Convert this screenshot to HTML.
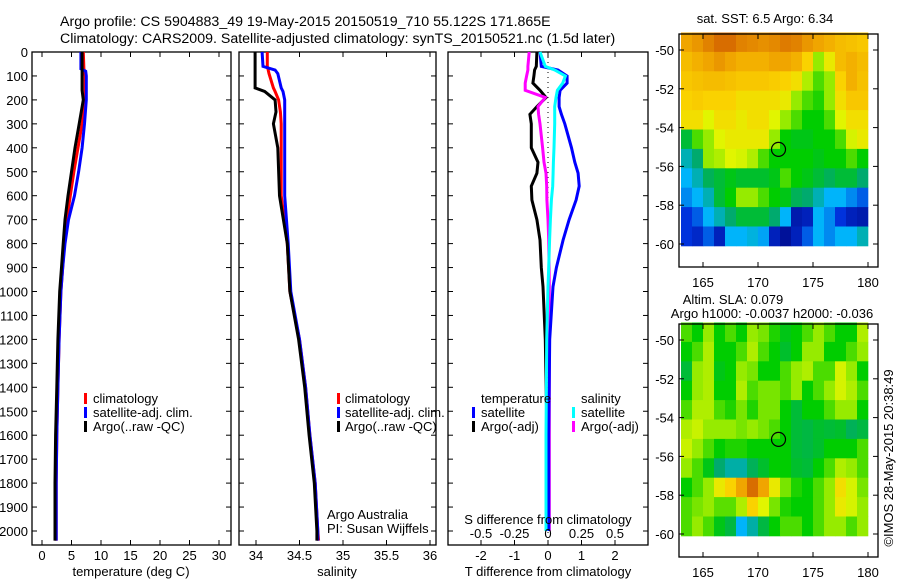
<!DOCTYPE html>
<html><head><meta charset="utf-8">
<style>
body{margin:0;background:#fff;}
svg{display:block;font-family:"Liberation Sans",sans-serif;}
text{font-size:13px;fill:#000;}
</style></head>
<body>
<svg id="c" width="900" height="580" xmlns="http://www.w3.org/2000/svg">
<text x="60" y="26" style="font-size:14.2px">Argo profile: CS 5904883_49 19-May-2015 20150519_710 55.122S 171.865E</text>
<text x="60" y="43" style="font-size:14.2px">Climatology: CARS2009. Satellite-adjusted climatology: synTS_20150521.nc (1.5d later)</text>
</svg>
<script>
// ---- profile data ----
const tDepth=[0,70,80,100,160,200,300,400,500,600,700,800,900,1000,1200,1400,1600,1800,2000,2040];
const tClim=[7.0,7.1,7.2,7.3,7.3,7.4,6.8,6.1,5.4,4.8,4.2,3.8,3.5,3.2,2.9,2.7,2.5,2.4,2.4,2.4];
const tSat=[6.6,6.6,7.4,7.5,7.5,7.5,7.2,6.8,6.2,5.5,4.5,3.9,3.5,3.2,2.9,2.7,2.5,2.4,2.4,2.4];
const tArgo=[6.8,6.8,6.8,6.8,6.8,7.0,6.3,5.6,5.0,4.4,3.9,3.6,3.3,3.0,2.7,2.5,2.3,2.2,2.2,2.2];
const sDepth=[0,60,75,90,150,165,200,250,300,400,600,800,1000,1200,1400,1600,1800,2000,2040];
const sClim=[34.13,34.13,34.14,34.15,34.2,34.22,34.26,34.28,34.29,34.29,34.29,34.36,34.39,34.5,34.57,34.62,34.68,34.71,34.72];
const sSat=[34.07,34.08,34.22,34.25,34.29,34.31,34.33,34.33,34.33,34.33,34.33,34.37,34.4,34.5,34.57,34.62,34.68,34.71,34.71];
const sArgo=[33.99,33.99,33.99,33.99,33.99,34.1,34.22,34.23,34.2,34.25,34.27,34.36,34.39,34.49,34.56,34.61,34.67,34.7,34.7];
const dDepth=[0,60,75,100,130,160,190,228,260,300,400,460,506,560,618,700,785,900,980,1200,1600,2000];
const dTsat=[-0.24,-0.2,0.3,0.57,0.57,0.36,0.33,0.33,0.4,0.5,0.7,0.8,0.9,0.93,0.84,0.63,0.45,0.25,0.15,0.05,0.02,0.02];
const dTargo=[-0.33,-0.35,-0.4,-0.42,-0.45,-0.24,-0.06,-0.33,-0.54,-0.5,-0.5,-0.3,-0.33,-0.5,-0.48,-0.33,-0.24,-0.2,-0.15,-0.08,-0.03,-0.02];
const dSsat=[-0.06,-0.02,0.05,0.13,0.11,0.07,0.06,0.05,0.05,0.05,0.045,0.04,0.038,0.035,0.025,0.018,0.012,0.005,0.0,-0.01,-0.015,-0.015];
const dSargo=[-0.14,-0.15,-0.15,-0.16,-0.17,-0.17,-0.02,-0.075,-0.07,-0.06,-0.04,-0.03,-0.015,-0.01,-0.008,0.0,0.005,0.008,0.01,0.01,0.01,0.01];
// ---- map data (normalized colour index 0..1), rows lat -49.6 .. -59.6, cols lon 163.5..179.5 ----
const sstGrid=[
[0.8,0.82,0.85,0.88,0.88,0.85,0.84,0.83,0.84,0.86,0.85,0.82,0.8,0.78,0.76,0.75,0.74],
[0.76,0.78,0.8,0.82,0.8,0.78,0.78,0.78,0.8,0.8,0.78,0.72,0.6,0.68,0.76,0.78,0.76],
[0.74,0.75,0.76,0.76,0.75,0.74,0.74,0.74,0.73,0.72,0.7,0.62,0.55,0.6,0.72,0.78,0.75],
[0.72,0.73,0.72,0.72,0.72,0.7,0.7,0.7,0.7,0.68,0.6,0.55,0.52,0.6,0.7,0.74,0.74],
[0.7,0.7,0.66,0.7,0.7,0.68,0.7,0.7,0.66,0.6,0.55,0.5,0.5,0.55,0.66,0.7,0.7],
[0.45,0.55,0.6,0.66,0.68,0.68,0.68,0.68,0.6,0.5,0.48,0.48,0.5,0.5,0.55,0.65,0.68],
[0.35,0.4,0.6,0.62,0.66,0.65,0.62,0.55,0.5,0.5,0.5,0.5,0.48,0.5,0.5,0.55,0.5],
[0.3,0.35,0.42,0.45,0.48,0.46,0.46,0.46,0.48,0.55,0.5,0.48,0.45,0.42,0.45,0.45,0.4],
[0.25,0.3,0.35,0.45,0.5,0.6,0.6,0.55,0.5,0.48,0.42,0.4,0.35,0.3,0.3,0.25,0.2],
[0.15,0.2,0.3,0.35,0.4,0.45,0.45,0.45,0.4,0.3,0.08,0.1,0.3,0.25,0.15,0.1,0.08],
[0.15,0.12,0.2,0.1,0.3,0.3,0.32,0.28,0.1,0.05,0.1,0.2,0.3,0.25,0.3,0.3,0.35]];
const slaGrid=[
[0.55,0.5,0.6,0.5,0.55,0.5,0.6,0.58,0.52,0.48,0.5,0.55,0.6,0.55,0.5,0.5,0.62],
[0.5,0.55,0.62,0.5,0.5,0.55,0.62,0.55,0.5,0.46,0.5,0.6,0.6,0.5,0.5,0.55,0.6],
[0.45,0.6,0.62,0.48,0.5,0.6,0.58,0.5,0.5,0.55,0.6,0.62,0.55,0.55,0.65,0.6,0.5],
[0.5,0.6,0.62,0.5,0.5,0.62,0.55,0.58,0.58,0.55,0.6,0.5,0.55,0.6,0.65,0.62,0.55],
[0.55,0.62,0.62,0.55,0.52,0.58,0.52,0.58,0.58,0.5,0.45,0.5,0.5,0.55,0.6,0.6,0.5],
[0.62,0.64,0.6,0.6,0.6,0.58,0.6,0.58,0.55,0.5,0.45,0.44,0.46,0.45,0.46,0.42,0.44],
[0.64,0.6,0.55,0.5,0.52,0.52,0.5,0.5,0.5,0.5,0.45,0.44,0.46,0.5,0.5,0.5,0.55],
[0.6,0.55,0.48,0.4,0.36,0.36,0.42,0.46,0.5,0.5,0.46,0.45,0.5,0.55,0.62,0.6,0.55],
[0.5,0.55,0.6,0.68,0.72,0.8,0.88,0.8,0.68,0.58,0.52,0.5,0.55,0.6,0.7,0.65,0.58],
[0.55,0.58,0.6,0.56,0.56,0.62,0.72,0.66,0.58,0.52,0.5,0.5,0.55,0.6,0.68,0.65,0.6],
[0.55,0.6,0.55,0.48,0.44,0.3,0.36,0.44,0.5,0.55,0.55,0.5,0.55,0.6,0.6,0.55,0.6]];
const depthTicks=[0,100,200,300,400,500,600,700,800,900,1000,1100,1200,1300,1400,1500,1600,1700,1800,1900,2000];
const tTicks=[0,5,10,15,20,25,30];
const sTicks=[34,34.5,35,35.5,36];
const sTickLabels=["34","34.5","35","35.5","36"];
const dTTicks=[-2,-1,0,1,2];
const dSTicks=[-0.5,-0.25,0,0.25,0.5];
const dSTickLabels=["-0.5","-0.25","0","0.25","0.5"];
const lonTicks=[165,170,175,180];
const latTicks=[-50,-52,-54,-56,-58,-60];
const argoLon=171.865, argoLat=-55.122;

const svg=document.getElementById('c');
const NS='http://www.w3.org/2000/svg';
function el(tag,attrs,parent){const e=document.createElementNS(NS,tag);for(const k in attrs)e.setAttribute(k,attrs[k]);(parent||svg).appendChild(e);return e;}
function txt(x,y,s,anchor,parent){const t=el('text',{x:x,y:y,'text-anchor':anchor||'start'},parent);t.textContent=s;return t;}

const yD=d=>52+d*0.2395;
const xT=v=>42+v*5.9;
const xS=v=>256+(v-34)*87;
const xDT=v=>548+v*33.5;
const xDS=v=>548+v*134;
const FB=545;

function frame(x0,x1,name){
  const r=el('rect',{x:x0,y:52,width:x1-x0,height:FB-52,fill:'none',stroke:'#000','stroke-width':1.3});
  
  
}
function line(xs,ds,fx,color,w,name){
  const pts=xs.map((v,i)=>fx(v).toFixed(1)+','+yD(ds[i]).toFixed(1)).join(' ');
  const p=el('polyline',{points:pts,fill:'none',stroke:color,'stroke-width':w,'stroke-linejoin':'miter'});
  
  
}
function xticks(vals,labels,fx,x0,x1,name){
  const g=el('g',{});
  
  
  vals.forEach((v,i)=>{const x=fx(v);
    el('line',{x1:x,x2:x,y1:FB,y2:FB-5,stroke:'#000'},g);
    el('line',{x1:x,x2:x,y1:52,y2:57,stroke:'#000'},g);
    txt(x,560,labels[i],'middle',g);});
}
function yticks(x0,x1,labels){
  const g=el('g',{});
  
  
  depthTicks.forEach(d=>{const y=yD(d);
    el('line',{x1:x0,x2:x0+5,y1:y,y2:y,stroke:'#000'},g);
    el('line',{x1:x1,x2:x1-5,y1:y,y2:y,stroke:'#000'},g);
    if(labels)txt(28,y+5,String(d),'end',g);});
}
function legendMark(x,y,c,name){const r=el('rect',{x:x,y:y-10,width:3,height:11,fill:c});
  }

// Panel 1 temperature
frame(32,231,'temperature-panel');
yticks(32,231,true);
xticks(tTicks,tTicks.map(String),xT,32,231,'temperature-x-ticks');
line(tClim,tDepth,xT,'#f00',3,'temperature-climatology-line');
line(tSat,tDepth,xT,'#00f',3,'temperature-satellite-line');
line(tArgo,tDepth,xT,'#000',3,'temperature-argo-line');
txt(131,576,'temperature (deg C)','middle');
legendMark(84,403,'#f00','legend-climatology-mark');txt(93,403,'climatology');
legendMark(84,417,'#00f','legend-satellite-mark');txt(93,417,'satellite-adj. clim.');
legendMark(84,431,'#000','legend-argo-mark');txt(93,431,'Argo(..raw -QC)');

// Panel 2 salinity
frame(239,436,'salinity-panel');
yticks(239,436,false);
xticks(sTicks,sTickLabels,xS,239,436,'salinity-x-ticks');
line(sClim,sDepth,xS,'#f00',3,'salinity-climatology-line');
line(sSat,sDepth,xS,'#00f',3,'salinity-satellite-line');
line(sArgo,sDepth,xS,'#000',3,'salinity-argo-line');
txt(337,576,'salinity','middle');
legendMark(337,403,'#f00','legend2-climatology-mark');txt(345,403,'climatology');
legendMark(337,417,'#00f','legend2-satellite-mark');txt(345,417,'satellite-adj. clim.');
legendMark(337,431,'#000','legend2-argo-mark');txt(345,431,'Argo(..raw -QC)');
txt(327,519,'Argo Australia');
txt(327,533,'PI: Susan Wijffels');

// Panel 3 differences
frame(448,648,'difference-panel');
yticks(448,648,false);
xticks(dTTicks,dTTicks.map(String),xDT,448,648,'t-difference-x-ticks');
el('line',{x1:548,x2:548,y1:52,y2:FB,stroke:'#000','stroke-dasharray':'1,4','stroke-width':1});
line(dTargo,dDepth,xDT,'#000',3,'t-diff-argo-line');
line(dSargo,dDepth,xDS,'#f0f',3,'s-diff-argo-line');
line(dTsat,dDepth,xDT,'#00f',3,'t-diff-satellite-line');
line(dSsat,dDepth,xDS,'#0ff',3,'s-diff-satellite-line');
txt(481,403,'temperature');txt(581,403,'salinity');
legendMark(472,417,'#00f','legend3-t-satellite');txt(481,417,'satellite');
legendMark(472,431,'#000','legend3-t-argo');txt(481,431,'Argo(-adj)');
legendMark(572,417,'#0ff','legend3-s-satellite');txt(581,417,'satellite');
legendMark(572,431,'#f0f','legend3-s-argo');txt(581,431,'Argo(-adj)');
txt(548,524,'S difference from climatology','middle');
dSTicks.forEach((v,i)=>txt(xDS(v),538,dSTickLabels[i],'middle'));
txt(548,576,'T difference from climatology','middle');

// Maps
const cmapStops=[[0,[0,0,120]],[0.15,[0,50,220]],[0.3,[0,180,250]],[0.4,[0,170,110]],[0.5,[0,205,0]],[0.6,[150,235,0]],[0.66,[225,245,0]],[0.72,[250,210,0]],[0.8,[240,165,0]],[0.9,[210,95,0]],[1,[150,0,0]]];
function cmap(v){v=Math.max(0,Math.min(1,v));
  for(let i=1;i<cmapStops.length;i++){const a=cmapStops[i-1],b=cmapStops[i];
    if(v<=b[0]){const t=(v-a[0])/(b[0]-a[0]);
      return 'rgb('+a[1].map((c,k)=>Math.round(c+(b[1][k]-c)*t)).join(',')+')';}}
  return 'rgb(150,0,0)';}
function map(grid,top,name){
  const lonX=l=>703+(l-165)*11;
  const latY=l=>top+16+(-50-l)*19.4;
  const g=el('g',{});
  
  
  grid.forEach((row,r)=>row.forEach((v,c)=>{
    const lat=-49.1-r, lon=163+c;
    el('rect',{x:lonX(lon).toFixed(1),y:latY(lat).toFixed(1),width:11.3,height:19.8,fill:cmap(v)},g);}));
  el('rect',{x:679,y:top,width:199,height:233,fill:'none',stroke:'#000','stroke-width':1.3},g);
  lonTicks.forEach(l=>{const x=lonX(l);el('line',{x1:x,x2:x,y1:top+233,y2:top+228,stroke:'#000'},g);
    el('line',{x1:x,x2:x,y1:top,y2:top+5,stroke:'#000'},g);txt(x,top+253,String(l),'middle',g);});
  latTicks.forEach(l=>{const y=latY(l);el('line',{x1:679,x2:684,y1:y,y2:y,stroke:'#000'},g);
    el('line',{x1:878,x2:873,y1:y,y2:y,stroke:'#000'},g);txt(674,y+5,String(l),'end',g);});
  const ci=el('circle',{cx:lonX(argoLon),cy:latY(argoLat),r:7,fill:'none',stroke:'#000','stroke-width':1.2});
  
  
}
map(sstGrid,34,'sst-map');
map(slaGrid,324,'sla-map');
txt(765,23,'sat. SST: 6.5 Argo: 6.34','middle');
txt(733,304,'Altim. SLA: 0.079','middle');
txt(772,318,'Argo h1000: -0.0037 h2000: -0.036','middle');
const cr=txt(0,0,'©IMOS 28-May-2015 20:38:49','middle');
cr.setAttribute('transform','translate(893,458) rotate(-90)');

</script>
</body></html>
